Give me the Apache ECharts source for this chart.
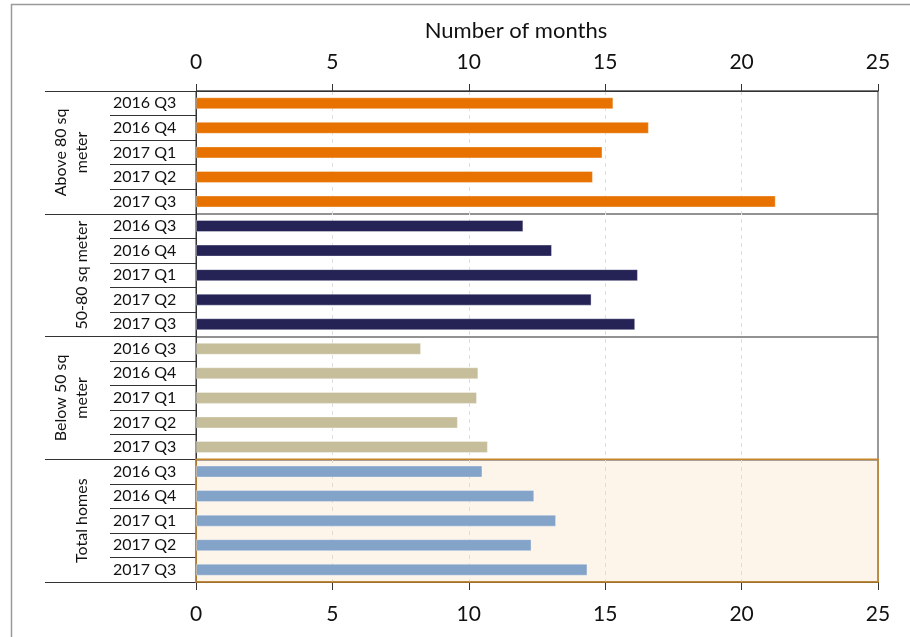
<!DOCTYPE html>
<html>
<head>
<meta charset="utf-8">
<script src="https://cdn.jsdelivr.net/npm/echarts@6/dist/echarts.min.js"></script>
<style>
  html, body { margin: 0; padding: 0; background: #fff; }
  #chart { width: 910px; height: 637px; }
</style>
</head>
<body>
<div id="chart"></div>
<script>
// groups and periods (rows top to bottom)
const groups = ['Above 80 sq\nmeter', '50-80 sq meter', 'Below 50 sq\nmeter', 'Total homes']
const periods = ['2016 Q3', '2016 Q4', '2017 Q1', '2017 Q2', '2017 Q3']

// number of months, one value per period
const above80 = [15.3, 16.6, 14.9, 14.55, 21.25]
const from50to80 = [12.0, 13.05, 16.2, 14.5, 16.1]
const below50 = [8.25, 10.35, 10.3, 9.6, 10.7]
const totalHomes = [10.5, 12.4, 13.2, 12.3, 14.35]

const xTicks = [0, 5, 10, 15, 20, 25]
const groupColors = ['#E87200', '#252356', '#C6BE9A', '#83A3C8']

const font = 'Lato, "Open Sans", sans-serif'

// build unique row keys so repeated period names stay separate
const groupValues = [above80, from50to80, below50, totalHomes]
const rowKeys = []
const barData = []
groups.forEach((g, gi) => {
  periods.forEach((p, pi) => {
    rowKeys.push(gi + '|' + p)
    barData.push({
      value: groupValues[gi][pi],
      itemStyle: { color: groupColors[gi] }
    })
  })
})

const chart = echarts.init(document.getElementById('chart'))

const axisLineStyle = { color: '#333', width: 1 }

const option = {
  animation: false,
  title: {
    text: 'Number of months',
    left: 511,
    top: 15,
    textAlign: 'center',
    textStyle: { fontFamily: font, fontSize: 22, fontWeight: 'normal', color: '#111' }
  },
  grid: {
    left: 196,
    right: 32,
    top: 91,
    bottom: 55,
    show: true,
    borderColor: '#333',
    borderWidth: 1,
    backgroundColor: 'transparent'
  },
  graphic: [{
    type: 'rect',
    shape: { x: 11.5, y: 4.5, width: 1000, height: 1000 },
    style: { fill: 'none', stroke: '#9a9a9a', lineWidth: 1.5 },
    silent: true
  }],
  xAxis: [
    {
      type: 'value',
      position: 'top',
      min: xTicks[0],
      max: xTicks[xTicks.length - 1],
      interval: 5,
      axisLine: { show: true, lineStyle: axisLineStyle },
      axisTick: { show: true, length: 7, lineStyle: axisLineStyle },
      axisLabel: { fontFamily: font, fontSize: 21, color: '#111', margin: 18 },
      splitLine: { show: false }
    },
    {
      type: 'value',
      position: 'bottom',
      min: xTicks[0],
      max: xTicks[xTicks.length - 1],
      interval: 5,
      axisLine: { show: true, lineStyle: axisLineStyle },
      axisTick: { show: true, length: 8, lineStyle: axisLineStyle },
      axisLabel: { fontFamily: font, fontSize: 21, color: '#111', margin: 22 },
      splitLine: {
        show: true,
        showMinLine: false,
        showMaxLine: false,
        lineStyle: { color: '#dedede', type: [4, 4], width: 1 }
      }
    }
  ],
  yAxis: [
    {
      type: 'category',
      data: rowKeys,
      inverse: true,
      position: 'left',
      axisLine: { show: true, lineStyle: axisLineStyle },
      axisTick: { show: true, interval: 0, length: 86, lineStyle: axisLineStyle },
      axisLabel: {
        interval: 0,
        fontFamily: font,
        fontSize: 16,
        color: '#111',
        align: 'left',
        margin: 83,
        formatter: v => v.split('|')[1]
      },
      splitLine: { show: false }
    },
    {
      type: 'category',
      data: groups,
      inverse: true,
      position: 'left',
      axisLine: { show: false },
      axisTick: { show: true, interval: 0, length: 151, lineStyle: axisLineStyle },
      axisLabel: {
        interval: 0,
        fontFamily: font,
        fontSize: 16,
        color: '#111',
        rotate: 90,
        margin: 104,
        lineHeight: 21
      },
      splitLine: { show: true, interval: 0, lineStyle: { color: '#6e6e6e', width: 1.5 } }
    }
  ],
  series: [
    {
      // highlighted box behind the total homes rows
      type: 'custom',
      xAxisIndex: 1,
      yAxisIndex: 1,
      z: 1,
      silent: true,
      data: [[0, 3, 25]],
      encode: { x: [0, 2], y: 1 },
      renderItem: (params, api) => {
        const y = api.value(1)
        const p0 = api.coord([api.value(0), y])
        const p1 = api.coord([api.value(2), y])
        const h = api.size([0, 1])[1]
        return {
          type: 'rect',
          shape: { x: p0[0], y: p0[1] - h / 2, width: p1[0] - p0[0], height: h },
          style: { fill: 'rgba(244, 206, 160, 0.22)', stroke: '#C8862A', lineWidth: 1.5 }
        }
      }
    },
    {
      type: 'bar',
      xAxisIndex: 1,
      yAxisIndex: 0,
      z: 2,
      barWidth: 12,
      data: barData,
      itemStyle: { borderColor: 'rgba(255,255,255,0.35)', borderWidth: 1 }
    }
  ]
}

chart.setOption(option)
</script>
</body>
</html>
